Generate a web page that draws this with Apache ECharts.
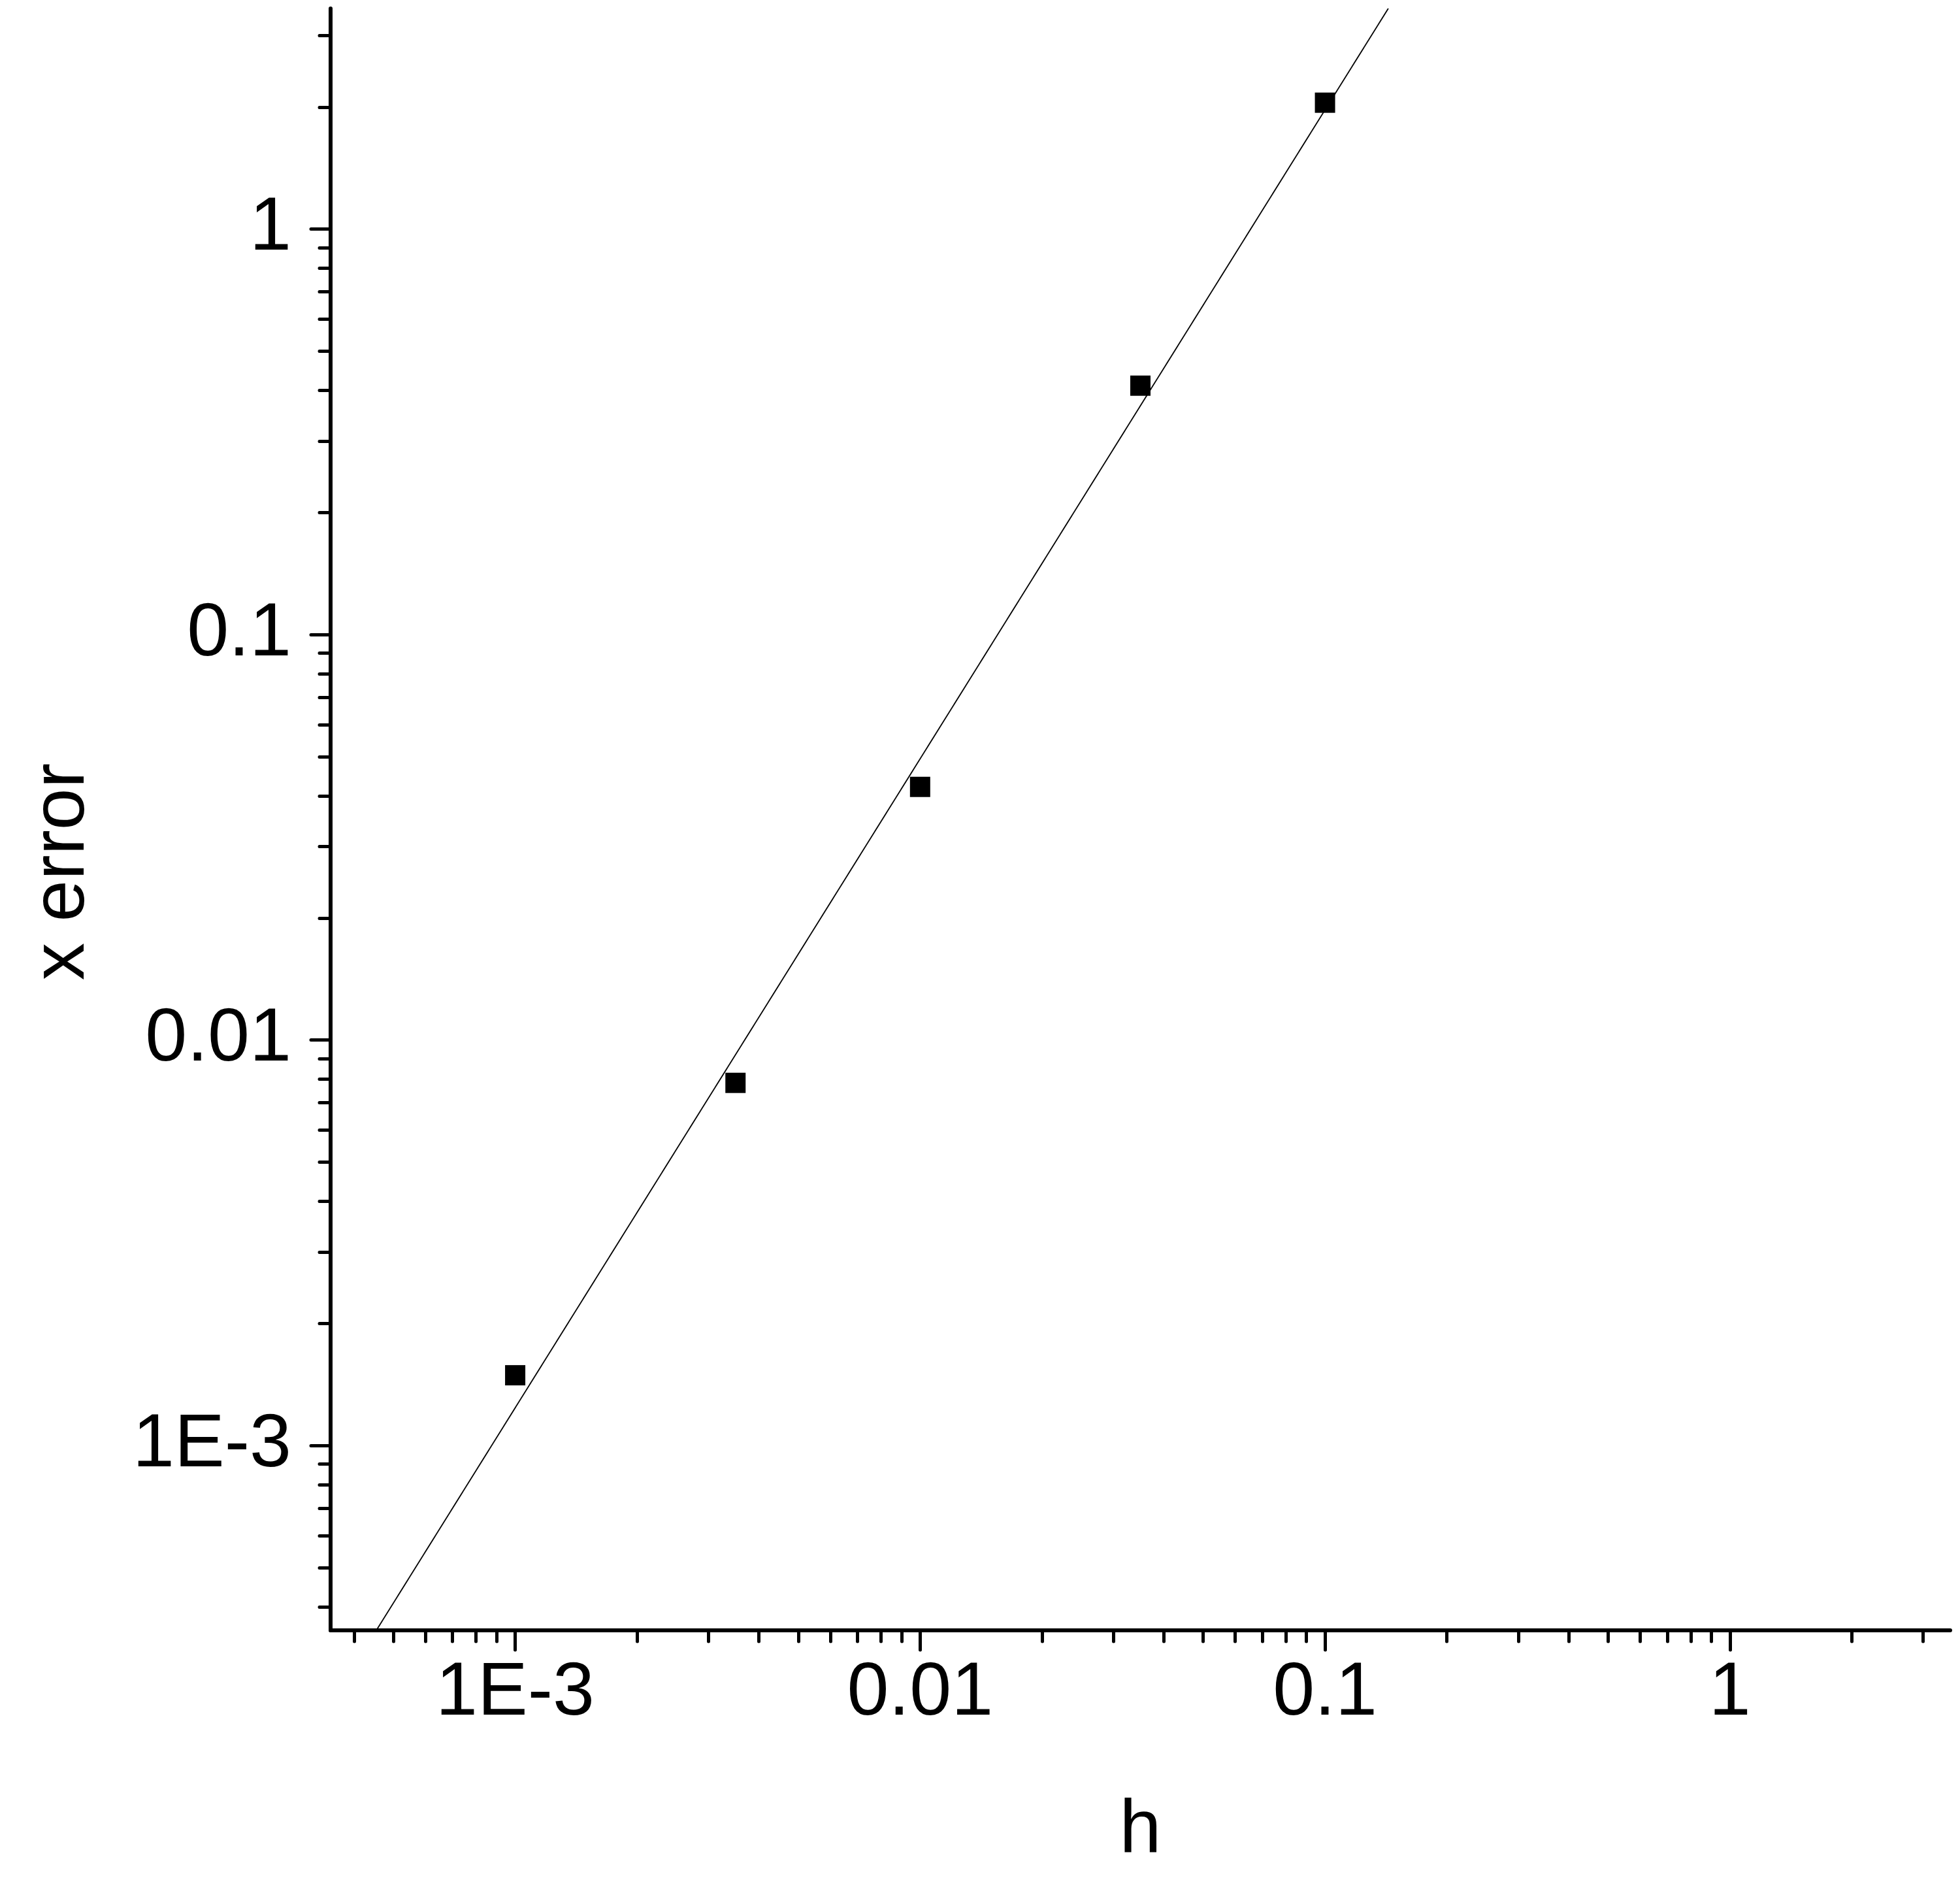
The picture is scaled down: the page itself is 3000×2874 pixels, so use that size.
<!DOCTYPE html>
<html><head><meta charset="utf-8">
<script src="https://cdn.jsdelivr.net/npm/echarts@6/dist/echarts.min.js"></script>
<style>html,body{margin:0;padding:0;background:#fff}#c{width:3000px;height:2874px}</style>
</head><body><div id="c"></div>
<script>
// Data
const hValues = [0.001, 0.0035, 0.01, 0.035, 0.1];
const xErrorValues = [0.00149, 0.00784, 0.0421, 0.411, 2.05];
// Fitted power-law line (endpoints where it leaves the plot area)
const fitH = [0.000454, 0.1433];
const fitErr = [0.00035, 3.5];
// Axis ticks
const axisMin = 0.00035, axisMax = 3.5;
const majorTickValues = [0.001, 0.01, 0.1, 1];
const majorTickLabels = ['1E-3', '0.01', '0.1', '1'];
const minorTickValues = [0.0004, 0.0005, 0.0006, 0.0007, 0.0008, 0.0009,
  0.002, 0.003, 0.004, 0.005, 0.006, 0.007, 0.008, 0.009,
  0.02, 0.03, 0.04, 0.05, 0.06, 0.07, 0.08, 0.09,
  0.2, 0.3, 0.4, 0.5, 0.6, 0.7, 0.8, 0.9, 2, 3];

const FONT = 'Liberation Sans, Arial, sans-serif';
const fmt = v => {
  const i = majorTickValues.findIndex(t => Math.abs(Math.log10(t) - Math.log10(v)) < 1e-6);
  return i >= 0 ? majorTickLabels[i] : '';
};
const axisSt = {color: '#000', width: 6, cap: 'round'};
const tickSt = {color: '#000', width: 5, cap: 'round'};
function majorAxis(isX) {
  return {
    type: 'log', logBase: 10, min: axisMin, max: axisMax, gridIndex: 0,
    position: isX ? 'bottom' : 'left',
    axisLine: {show: true, onZero: false, lineStyle: axisSt},
    axisTick: {show: true, inside: false, length: 30, customValues: majorTickValues, lineStyle: tickSt},
    axisLabel: {show: true, customValues: majorTickValues, formatter: fmt, fontSize: 115,
      fontFamily: FONT, color: '#000', margin: isX ? 40 : 60},
    splitLine: {show: false}, minorTick: {show: false}, minorSplitLine: {show: false},
    name: isX ? 'h' : 'x error', nameLocation: 'middle', nameGap: isX ? 250 : 352,
    nameTextStyle: {fontSize: 115, fontFamily: FONT, color: '#000',
      padding: isX ? 0 : [0, 160, 0, 0]}
  };
}
function minorAxis(isX) {
  return {
    type: 'log', logBase: 10, min: axisMin, max: axisMax, gridIndex: 0,
    position: isX ? 'bottom' : 'left',
    axisLine: {show: false, onZero: false},
    axisTick: {show: true, inside: false, length: 17, customValues: minorTickValues, lineStyle: tickSt},
    axisLabel: {show: false},
    splitLine: {show: false}
  };
}
const chart = echarts.init(document.getElementById('c'), null, {renderer: 'canvas'});
chart.setOption({
  animation: false,
  backgroundColor: '#fff',
  grid: {left: 506, top: 13, width: 2479, height: 2482, containLabel: false},
  xAxis: [majorAxis(true), minorAxis(true)],
  yAxis: [majorAxis(false), minorAxis(false)],
  series: [
    {
      type: 'line', xAxisIndex: 0, yAxisIndex: 0,
      data: fitH.map((h, i) => [h, fitErr[i]]),
      showSymbol: false, symbol: 'none', clip: true,
      lineStyle: {color: '#000', width: 1.8}
    },
    {
      type: 'scatter', xAxisIndex: 0, yAxisIndex: 0,
      data: hValues.map((h, i) => [h, xErrorValues[i]]),
      symbol: 'rect', symbolSize: 31,
      itemStyle: {color: '#000', opacity: 1}
    }
  ]
});
</script>
</body></html>
